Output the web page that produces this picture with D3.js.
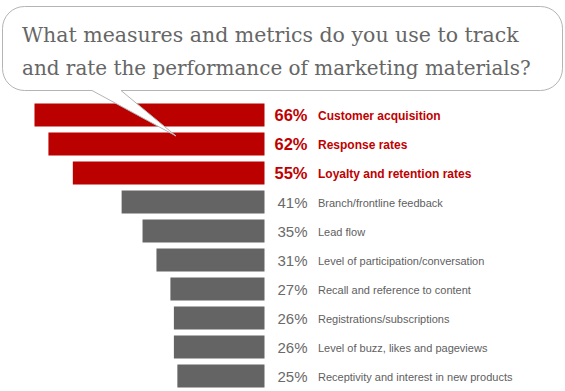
<!DOCTYPE html>
<html><head><meta charset="utf-8">
<script src="https://cdn.jsdelivr.net/npm/d3@7/dist/d3.min.js"></script>
<style>html,body{margin:0;padding:0;background:#fff;}svg{display:block;}</style>
</head><body>
<script>
const titleLines = ["What measures and metrics do you use to track", "and rate the performance of marketing materials?"];
const categories = ["Customer acquisition","Response rates","Loyalty and retention rates","Branch/frontline feedback","Lead flow","Level of participation/conversation","Recall and reference to content","Registrations/subscriptions","Level of buzz, likes and pageviews","Receptivity and interest in new products"];
const values = [66,62,55,41,35,31,27,26,26,25];
const highlighted = [true,true,true,false,false,false,false,false,false,false];

const W = 565, H = 391;
const svg = d3.select("body").append("svg").attr("width", W).attr("height", H);

const barRight = 264.5;
const x = d3.scaleLinear().domain([0, 100]).range([0, 348.5]);
const y = d3.scaleBand().domain(categories).range([100.5, 390.5]).paddingInner(6/29).paddingOuter(3/29);

const rows = categories.map((c, i) => ({c, v: values[i], h: highlighted[i]}));

svg.selectAll("rect.bar").data(rows).join("rect")
  .attr("class", "bar")
  .attr("x", d => barRight - x(d.v))
  .attr("y", d => y(d.c))
  .attr("width", d => x(d.v))
  .attr("height", y.bandwidth())
  .attr("fill", d => d.h ? "#bb0000" : "#646464");

svg.selectAll("text.pct").data(rows).join("text")
  .attr("class", "pct")
  .attr("x", 307.5)
  .attr("y", d => y(d.c) + y.bandwidth()/2 + 5.5)
  .attr("text-anchor", "end")
  .attr("font-family", "Liberation Sans, Arial, sans-serif")
  .attr("font-weight", d => d.h ? "bold" : "normal")
  .attr("font-size", d => d.h ? 16.5 : 15)
  .attr("fill", d => d.h ? "#c00000" : "#6a6a6a")
  .text(d => d.v + "%");

svg.selectAll("text.cat").data(rows).join("text")
  .attr("class", "cat")
  .attr("x", 318)
  .attr("y", d => y(d.c) + y.bandwidth()/2 + 5)
  .attr("font-family", "Liberation Sans, Arial, sans-serif")
  .attr("font-weight", d => d.h ? "bold" : "normal")
  .attr("font-size", d => d.h ? 12 : 11)
  .attr("fill", d => d.h ? "#c00000" : "#606060")
  .text(d => d.c);

// speech bubble
const bx0 = 2.5, by0 = 6.5, bx1 = 562.5, by1 = 90.5, r = 22;
const tail = [[92, by1], [176, 136], [121, by1]];
const p = d3.path();
p.moveTo(bx0 + r, by0);
p.lineTo(bx1 - r, by0);
p.arcTo(bx1, by0, bx1, by0 + r, r);
p.lineTo(bx1, by1 - r);
p.arcTo(bx1, by1, bx1 - r, by1, r);
p.lineTo(tail[2][0], tail[2][1]);
p.lineTo(tail[1][0], tail[1][1]);
p.lineTo(tail[0][0], tail[0][1]);
p.lineTo(bx0 + r, by1);
p.arcTo(bx0, by1, bx0, by1 - r, r);
p.lineTo(bx0, by0 + r);
p.arcTo(bx0, by0, bx0 + r, by0, r);
p.closePath();
svg.append("path").attr("d", p.toString()).attr("fill", "#fff").attr("stroke", "#b4b4b4").attr("stroke-width", 1);

const tg = svg.append("g");
const targetWidths = [497, 509];
titleLines.forEach((t, i) => {
  const el = tg.append("text")
    .attr("x", 22).attr("y", 41.5 + i * 33)
    .attr("font-family", "DejaVu Serif, Georgia, serif")
    .attr("font-size", 20)
    .attr("fill", "#666")
    .text(t);
  const w = el.node().getComputedTextLength();
  el.attr("font-size", 20 * targetWidths[i] / w);
});
</script>
</body></html>
